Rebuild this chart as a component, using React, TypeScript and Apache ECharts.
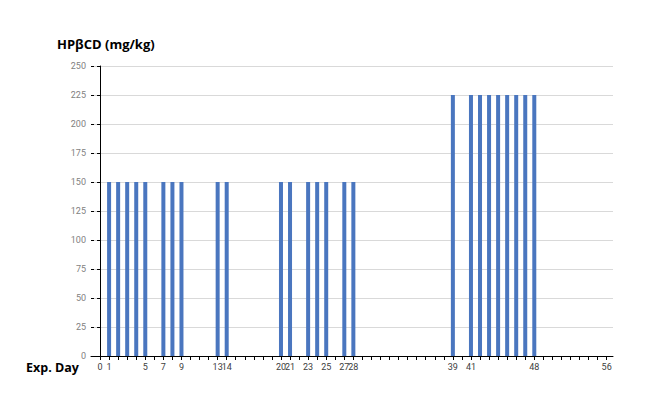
import React, { useEffect, useRef } from "react";
import * as echarts from "echarts";

const doseDays = [1, 2, 3, 4, 5, 7, 8, 9, 13, 14, 20, 21, 23, 24, 25, 27, 28, 39, 41, 42, 43, 44, 45, 46, 47, 48];
const doses = [150, 150, 150, 150, 150, 150, 150, 150, 150, 150, 150, 150, 150, 150, 150, 150, 150, 225, 225, 225, 225, 225, 225, 225, 225, 225];
const dayLabels = [0, 1, 5, 7, 9, 13, 14, 20, 21, 23, 25, 27, 28, 39, 41, 48, 56];
const yTicks = [0, 25, 50, 75, 100, 125, 150, 175, 200, 225, 250];

export default function App() {
  const ref = useRef<HTMLDivElement>(null);
  useEffect(() => {
    if (!ref.current) return;
    const chart = echarts.init(ref.current, null, { renderer: "svg" });
    const tickDays: number[] = [];
    for (let d = 0; d <= 56; d++) tickDays.push(d);
    const font = "'Open Sans', 'Noto Sans', sans-serif";
    const tickFont = "Roboto, 'Noto Sans', sans-serif";
    chart.setOption({
      animation: false,
      grid: { left: 83, top: 58, right: 27, bottom: 41, containLabel: false },
      graphic: [
        { type: "text", left: 49, top: 29, style: { text: "HPβCD (mg/kg)", font: `bold 13px ${font}`, fill: "#000" } },
        { type: "text", left: 18, top: 353, style: { text: "Exp. Day", font: `bold 12.5px ${font}`, fill: "#000" } },
      ],
      xAxis: {
        type: "value",
        min: -1,
        max: 56.7,
        splitLine: { show: false },
        axisLine: { show: true, onZero: false, lineStyle: { color: "#000", width: 1 } },
        axisTick: { show: true, customValues: tickDays, length: 4, lineStyle: { color: "#000" } },
        axisLabel: { customValues: dayLabels, color: "#404040", fontSize: 9, fontFamily: tickFont, margin: 6 },
      },
      yAxis: [
        {
          type: "value",
          min: 0,
          max: 250,
          interval: 25,
          axisLine: { show: true, lineStyle: { color: "#000", width: 1 } },
          axisTick: { show: true, length: 3, lineStyle: { color: "#000" } },
          axisLabel: { color: "#7f7f7f", fontSize: 9, fontFamily: tickFont, margin: 5, customValues: yTicks },
          splitLine: { show: true, lineStyle: { color: "#d9d9d9", width: 1 } },
        },
        {
          type: "value",
          min: 0,
          max: 250,
          interval: 25,
          position: "left",
          offset: 0,
          axisLine: { show: false },
          axisTick: { show: true, inside: true, length: 3, lineStyle: { color: "#000" } },
          axisLabel: { show: false },
          splitLine: { show: false },
        },
      ],
      series: [
        {
          type: "bar",
          data: doseDays.map((d, i) => [d, doses[i]]),
          barWidth: 4,
          itemStyle: { color: "#4a76bf" },
          yAxisIndex: 0,
        },
      ],
    });
    return () => chart.dispose();
  }, []);
  return <div ref={ref} style={{ width: 632, height: 389 }} />;
}
